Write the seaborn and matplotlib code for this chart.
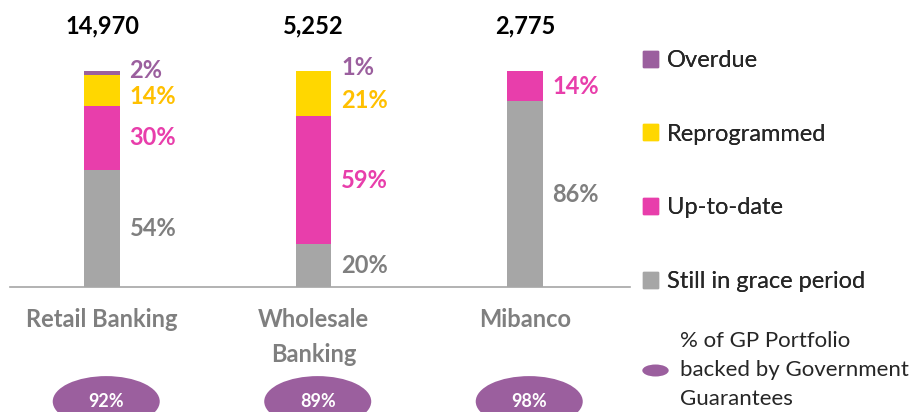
import numpy as np
import pandas as pd
import matplotlib.pyplot as plt
import seaborn as sns
from matplotlib.patches import Ellipse, Patch
from matplotlib.lines import Line2D
from matplotlib.path import Path
from matplotlib.transforms import Affine2D

# datos
segments = ['Retail Banking', 'Wholesale\nBanking', 'Mibanco']
totals = [14970, 5252, 2775]
gov_backed = [92, 89, 98]

grace = [54, 20, 86]
up_to_date = [30, 59, 14]
reprogrammed = [14, 21, 0]
overdue = [2, 1, 0]

cols = ['Still in grace period', 'Up-to-date', 'Reprogrammed', 'Overdue']
bar_colors = {'Still in grace period': '#A6A6A6', 'Up-to-date': '#E83EAB',
              'Reprogrammed': '#FFD700', 'Overdue': '#9B5F9E'}
text_colors = {'Still in grace period': '#7F7F7F', 'Up-to-date': '#E83EAB',
               'Reprogrammed': '#FFC000', 'Overdue': '#9B5F9E'}
nudge = {'Still in grace period': 0, 'Up-to-date': 0, 'Reprogrammed': -3, 'Overdue': 1}

df = pd.DataFrame({'segment': segments, 'Still in grace period': grace,
                   'Up-to-date': up_to_date, 'Reprogrammed': reprogrammed,
                   'Overdue': overdue})
cum = df[cols].cumsum(axis=1)

sns.set_theme(style='white')
plt.rcParams['font.family'] = ['Lato', 'DejaVu Sans']

fig = plt.figure(figsize=(9.19, 4.12), dpi=100)
ax = fig.add_axes([10 / 919, 125 / 412, 620 / 919, 216 / 412])

# barras apiladas: de arriba hacia abajo
for col in reversed(cols):
    sns.barplot(x=df['segment'], y=cum[col], color=bar_colors[col], width=0.17,
                saturation=1, errorbar=None, linewidth=0, ax=ax)

ax.set_xlim(-92 / 211.5, 2 + 105 / 211.5)
ax.set_ylim(0, 100)
ax.set_xlabel('')
ax.set_ylabel('')
ax.set_yticks([])
for s in ['top', 'right', 'left']:
    ax.spines[s].set_visible(False)
ax.spines['bottom'].set_color('#A6A6A6')
ax.spines['bottom'].set_linewidth(1.2)
ax.tick_params(axis='x', length=0, pad=15, labelsize=17, labelcolor='#7F7F7F')
for lbl in ax.get_xticklabels():
    lbl.set_fontweight('bold')
    lbl.set_linespacing(1.65)

# etiquetas de porcentaje
for i in range(len(segments)):
    for col in cols:
        v = df[col][i]
        if v == 0:
            continue
        y = cum[col][i] - v / 2 + nudge[col]
        ax.text(i + 0.13, y, f'{v}%', ha='left', va='center', fontsize=17,
                fontweight='bold', color=text_colors[col], clip_on=False)

# totales
for i, t in enumerate(totals):
    ax.text(i, 121, f'{t:,}', ha='center', va='center', fontsize=17,
            fontweight='bold', color='black', clip_on=False)

# elipses de garantia
for i, g in enumerate(gov_backed):
    e = Ellipse((i + 0.02, -53), 0.506, 23.5, color='#9B5F9E', clip_on=False, lw=0)
    ax.add_patch(e)
    ax.text(i + 0.02, -53, f'{g}%', ha='center', va='center', fontsize=13,
            fontweight='bold', color='white', clip_on=False)

# leyendas
handles = [Patch(color=bar_colors[c], label=c) for c in reversed(cols)]
leg1 = ax.legend(handles=handles, loc='upper left', frameon=False,
                 bbox_to_anchor=(643 / 919, 1 - 50 / 412), bbox_transform=fig.transFigure,
                 fontsize=17, handlelength=0.65, handleheight=0.65, handletextpad=0.35,
                 labelspacing=2.23, borderpad=0, borderaxespad=0, labelcolor='#262626')
ax.add_artist(leg1)

oval = Path.unit_circle().transformed(Affine2D().scale(2.2, 1))
h2 = Line2D([], [], marker=oval, markersize=19, linestyle='none', color='#9B5F9E',
            markeredgewidth=0)
leg2 = fig.legend(handles=[h2], labels=['% of GP Portfolio\nbacked by Government\nGuarantees'],
                  loc='center left', frameon=False, bbox_to_anchor=(641 / 919, 1 - 370 / 412),
                  fontsize=16, handlelength=1.3, handletextpad=0.45, borderpad=0,
                  borderaxespad=0, labelcolor='#262626')
for t in leg2.get_texts():
    t.set_linespacing(1.55)

fig.savefig('out.png', dpi=100)
